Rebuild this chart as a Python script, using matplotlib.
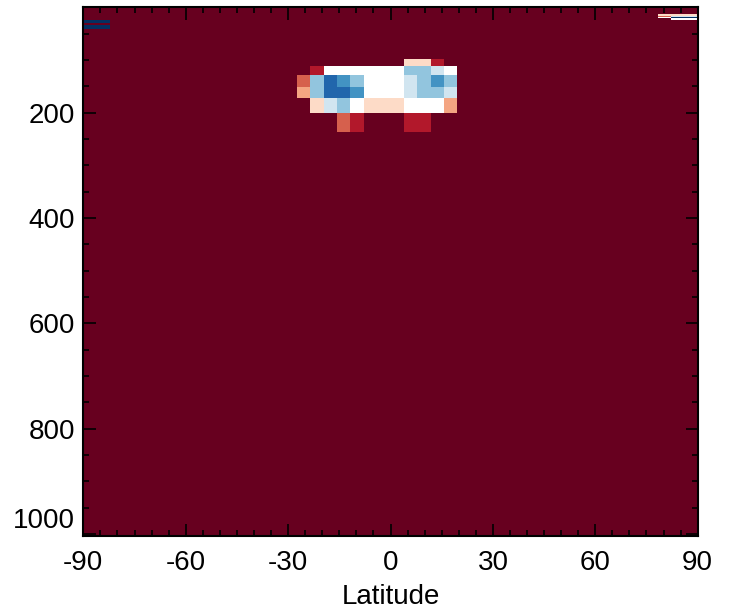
import matplotlib
matplotlib.use("Agg")
import matplotlib.pyplot as plt
import numpy as np
from matplotlib.colors import ListedColormap, BoundaryNorm

# 46 latitude cells of equal width, pressure level edges (hPa)
LAT_EDGES = np.linspace(-90, 90, 47)
P_EDGES = [0, 12.5, 15.8, 18.2, 20.8, 24.0, 30.2, 33.4, 41.0, 60.0, 80.0, 98.0,
           111.3, 128.4, 150.6, 171.5, 200.0, 236.0, 300.0, 400.0, 500.0, 600.0,
           700.0, 800.0, 900.0, 1003.0]

# colour classes 0..10 (RdBu_r); 10 = saturated background
BACKGROUND = 10

# anomaly patch: rows of P_EDGES index 11..16, lat columns 16..27
PATCH_ROW0 = 11
PATCH_COL0 = 16
PATCH = [
    [10, 10, 10, 10, 10, 10, 10, 10, 6, 6, 9, 10],
    [10, 9, 5, 5, 5, 5, 5, 5, 3, 3, 4, 5],
    [8, 3, 1, 2, 3, 5, 5, 5, 4, 3, 2, 3],
    [7, 3, 1, 1, 2, 5, 5, 5, 4, 3, 3, 4],
    [10, 6, 4, 3, 5, 6, 6, 6, 5, 5, 5, 7],
    [10, 10, 10, 8, 9, 10, 10, 10, 9, 9, 10, 10],
]

# thin stratospheric strips near the poles: (row, col, class)
TOP_CELLS = [
    (1, 43, 6), (1, 44, 6), (1, 45, 6),
    (2, 43, 8), (2, 44, 4), (2, 45, 4),
    (3, 43, 5), (3, 44, 0), (3, 45, 0),
    (4, 44, 5), (4, 45, 5),
    (5, 0, 0), (5, 1, 0),
    (7, 0, 0), (7, 1, 0),
]

COLORS = ["#053061", "#2166ac", "#4393c3", "#92c5de", "#d1e5f0", "#ffffff",
          "#fddbc7", "#f4a582", "#d6604d", "#b2182b", "#67001f"]

field = np.full((len(P_EDGES) - 1, len(LAT_EDGES) - 1), BACKGROUND, dtype=float)
patch = np.array(PATCH, dtype=float)
field[PATCH_ROW0:PATCH_ROW0 + patch.shape[0], PATCH_COL0:PATCH_COL0 + patch.shape[1]] = patch
for r, c, v in TOP_CELLS:
    field[r, c] = v

cmap = ListedColormap(COLORS)
norm = BoundaryNorm(np.arange(-0.5, 11.5, 1.0), cmap.N)

plt.rcParams["font.family"] = ["Liberation Sans", "DejaVu Sans"]
plt.rcParams["axes.unicode_minus"] = False

fig = plt.figure(figsize=(7.33, 6.14), dpi=100)
ax = fig.add_axes([0.1137, 0.1275, 0.8381, 0.8605])
ax.pcolormesh(LAT_EDGES, P_EDGES, field, cmap=cmap, norm=norm, shading="flat")

ax.set_xlim(-90, 90)
ax.set_ylim(1003, 0)
ax.set_xticks(np.arange(-90, 91, 30))
ax.set_xticks(np.arange(-90, 91, 5), minor=True)
ax.set_yticks(np.arange(200, 1001, 200))
ax.set_yticks(np.arange(0, 1001, 50), minor=True)
ax.tick_params(which="both", direction="in", top=True, right=True, width=1.2,
               labelsize=20)
ax.tick_params(which="major", length=9)
ax.tick_params(which="minor", length=4.5)
ax.tick_params(axis="x", pad=10)
ax.tick_params(axis="y", pad=6)
for s in ax.spines.values():
    s.set_linewidth(1.5)
ax.set_xlabel("Latitude", fontsize=20, labelpad=6)

# bottom y label sits just above its tick, as in the original
fig.canvas.draw()
ax.get_yticklabels()[-1].set_va("bottom")

fig.savefig("out.png", dpi=100)
